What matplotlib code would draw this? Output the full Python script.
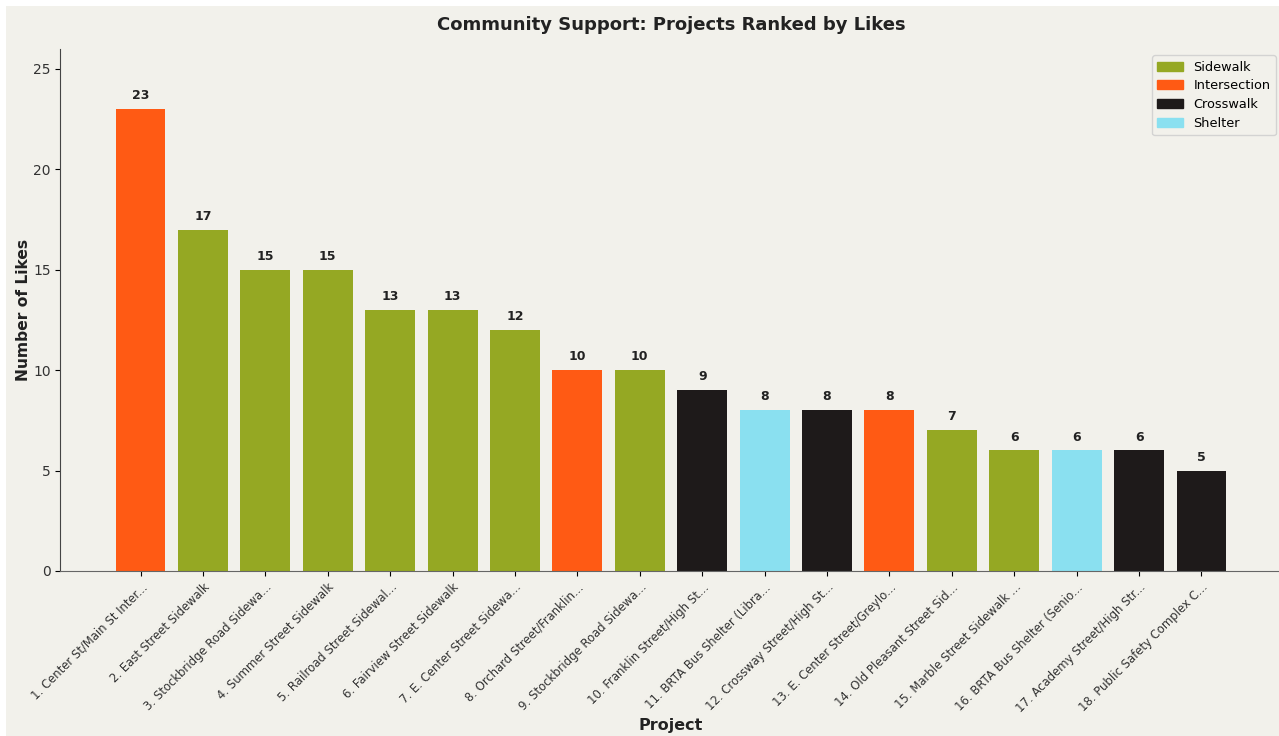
import matplotlib.pyplot as plt
from matplotlib.patches import Rectangle, Patch

projects = [
    "1. Center St/Main St Inter...",
    "2. East Street Sidewalk",
    "3. Stockbridge Road Sidewa...",
    "4. Summer Street Sidewalk",
    "5. Railroad Street Sidewal...",
    "6. Fairview Street Sidewalk",
    "7. E. Center Street Sidewa...",
    "8. Orchard Street/Franklin...",
    "9. Stockbridge Road Sidewa...",
    "10. Franklin Street/High St...",
    "11. BRTA Bus Shelter (Libra...",
    "12. Crossway Street/High St...",
    "13. E. Center Street/Greylo...",
    "14. Old Pleasant Street Sid...",
    "15. Marble Street Sidewalk ...",
    "16. BRTA Bus Shelter (Senio...",
    "17. Academy Street/High Str...",
    "18. Public Safety Complex C...",
]
likes = [23, 17, 15, 15, 13, 13, 12, 10, 10, 9, 8, 8, 8, 7, 6, 6, 6, 5]
types = ["Intersection", "Sidewalk", "Sidewalk", "Sidewalk", "Sidewalk", "Sidewalk",
         "Sidewalk", "Intersection", "Sidewalk", "Crosswalk", "Shelter", "Crosswalk",
         "Intersection", "Sidewalk", "Sidewalk", "Shelter", "Crosswalk", "Crosswalk"]

type_colors = {
    "Sidewalk": "#95A823",
    "Intersection": "#FF5A14",
    "Crosswalk": "#1E1A1A",
    "Shelter": "#8AE0F0",
}
bg = "#F2F1EB"

W, H = 1279, 736
dpi = 100
fig = plt.figure(figsize=(W / dpi, H / dpi), dpi=dpi, facecolor="white")
fig.patches.append(Rectangle((6 / W, 0), 1, 1 - 6 / H, transform=fig.transFigure,
                             facecolor=bg, edgecolor="none", zorder=-10))

ax = fig.add_axes([60 / W, 1 - 571 / H, (1282 - 60) / W, (571 - 49) / H])
ax.set_facecolor(bg)

x = list(range(len(projects)))
colors = [type_colors[t] for t in types]
bars = ax.bar(x, likes, width=0.8, color=colors)

for xi, v in zip(x, likes):
    ax.annotate(str(v), (xi, v), xytext=(0, 5), textcoords="offset points",
                ha="center", va="bottom", fontsize=9, fontweight="bold", color="#222222")

ax.set_ylim(0, 25.99)
ax.set_xticks(x)
ax.set_xticklabels(projects, rotation=45, ha="right", rotation_mode="anchor",
                   fontsize=8.4, color="#333333")
ax.tick_params(axis="y", labelsize=10, labelcolor="#333333", pad=3)
ax.spines["top"].set_visible(False)
ax.spines["right"].set_visible(False)
ax.spines["left"].set_color("#444444")
ax.spines["bottom"].set_color("#666666")

ax.set_title("Community Support: Projects Ranked by Likes", fontsize=13,
             fontweight="bold", color="#222222", pad=14)
ax.set_ylabel("Number of Likes", fontsize=11.2, fontweight="bold", color="#222222",
              labelpad=2)
ax.set_xlabel("Project", fontsize=11.5, fontweight="bold", color="#222222", labelpad=2)

handles = [Patch(color=c, label=t) for t, c in type_colors.items()]
leg = ax.legend(handles=handles, loc="upper right", fontsize=9.3,
                bbox_to_anchor=((1282 - 60) / (1282 - 60), 1.0), facecolor=bg,
                labelspacing=0.45)

fig.savefig("out.png", dpi=dpi, facecolor="white")
